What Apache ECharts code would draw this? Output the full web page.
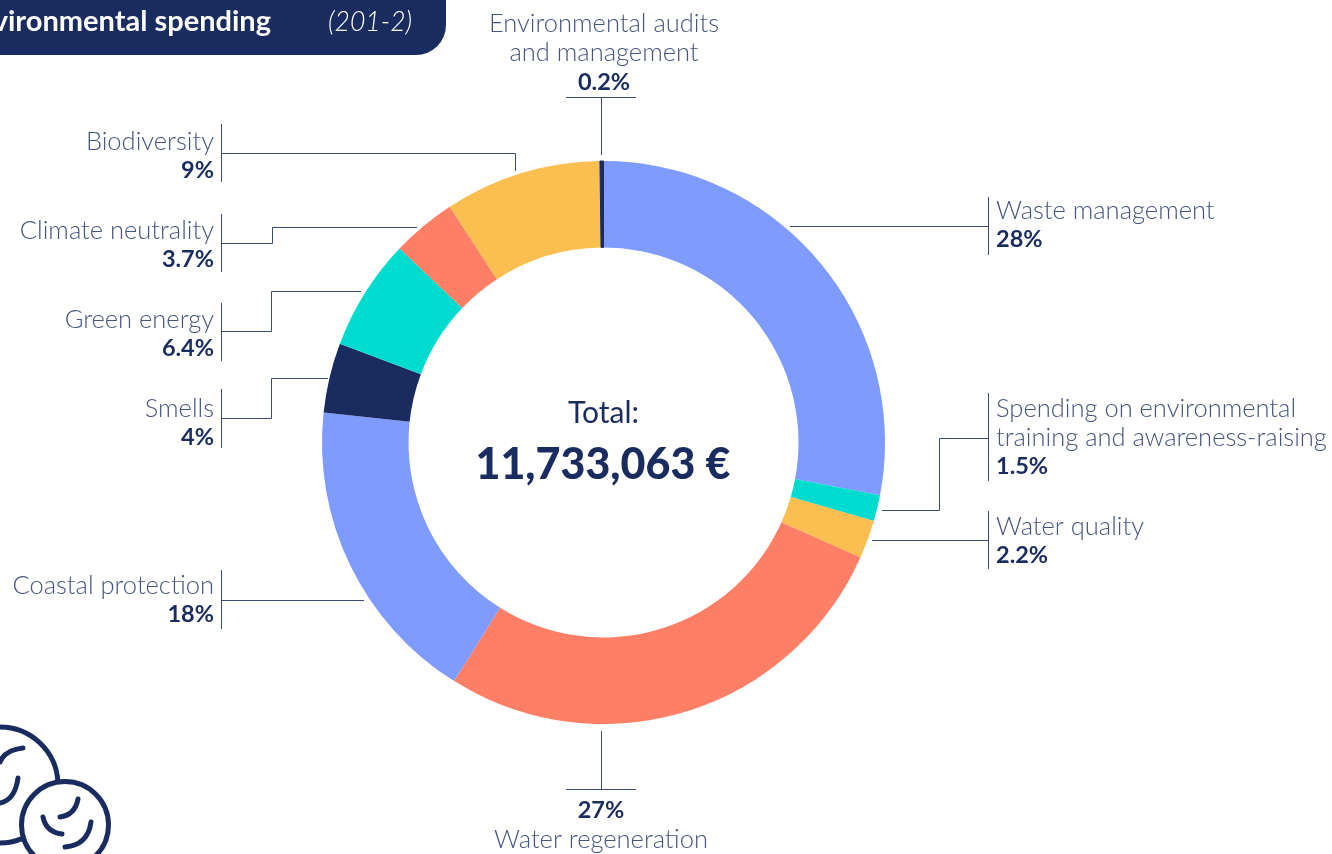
<!DOCTYPE html>
<html><head><meta charset="utf-8">
<style>html,body{margin:0;padding:0;background:#fff}#c{width:1332px;height:854px}</style>
<script src="https://cdn.jsdelivr.net/npm/echarts@6/dist/echarts.min.js"></script>
</head><body><div id="c"></div>
<script>
const categories = ['Waste management','Spending on environmental\ntraining and awareness-raising','Water quality','Water regeneration','Coastal protection','Smells','Green energy','Climate neutrality','Biodiversity','Environmental audits\nand management'];
const values = [28,1.5,2.2,27.2,17.8,4,6.4,3.7,9,0.2];
const valueLabels = ['28%','1.5%','2.2%','27%','18%','4%','6.4%','3.7%','9%','0.2%'];
const titleText = 'Environmental spending';
const periodText = '(201-2)';
const totalLabel = 'Total:';
const totalValue = '11,733,063 €';

const NAVY='#1a2c5f', TXT='#46557f', FONT='Lato';
const BLUE='#7f9bff', TEAL='#00dbd0', YEL='#fbbe50', CORAL='#ff7f66';
const colors=[BLUE,TEAL,YEL,CORAL,BLUE,NAVY,TEAL,CORAL,YEL,NAVY];

// label anchor per slice
const anchors=[
 {x:996,y:225,align:'left'},{x:996,y:437.5,align:'left'},{x:996,y:541,align:'left'},
 {x:601,y:825,align:'center'},{x:214,y:600,align:'right'},{x:214,y:423,align:'right'},
 {x:214,y:334,align:'right'},{x:214,y:245,align:'right'},{x:214,y:156,align:'right'},
 {x:604,y:53,align:'center'}];

// leader lines (annotation furniture)
const leaders=[
 [[221.5,124],[221.5,182]],[[221.5,153.5],[515.5,153.5],[515.5,171]],
 [[221.5,214],[221.5,272]],[[221.5,243.5],[272.5,243.5],[272.5,227.5],[417,227.5]],
 [[221.5,303],[221.5,361]],[[221.5,331.5],[271.5,331.5],[271.5,291.5],[361,291.5]],
 [[221.5,389],[221.5,448]],[[221.5,418.5],[271.5,418.5],[271.5,378.5],[328,378.5]],
 [[221.5,570],[221.5,629]],[[221.5,600.5],[364,600.5]],
 [[988.5,197],[988.5,255]],[[790,226.5],[988.5,226.5]],
 [[988.5,393],[988.5,481]],[[882,510.5],[939.5,510.5],[939.5,438.5],[988.5,438.5]],
 [[988.5,511],[988.5,569]],[[872,540.5],[988.5,540.5]],
 [[601.5,731],[601.5,789.5]],[[566,789.5],[636,789.5]],
 [[566,97.5],[636,97.5]],[[601.5,97.5],[601.5,155]]];

const icon={type:'group',silent:true,children:[
 ...[[0,785,58,-Math.PI/2,-0.05],[0,785,58,1.18,Math.PI/2]].map(a=>({type:'arc',shape:{cx:a[0],cy:a[1],r:a[2],startAngle:a[3],endAngle:a[4]},style:{stroke:NAVY,fill:null,lineWidth:5,lineCap:'round'}})),
 {type:'circle',shape:{cx:65,cy:825,r:43.5},style:{stroke:NAVY,fill:'#fff',lineWidth:5}},
 ...[[23,748,5,750,0,762],[18,778,15,800,0,803],[78,799,75,815,60,817],[43,817,46,832,62,834],[91,822,88,845,65,847]].map(c=>({type:'bezierCurve',shape:{x1:c[0],y1:c[1],cpx1:c[2],cpy1:c[3],x2:c[4],y2:c[5]},style:{stroke:NAVY,fill:null,lineWidth:5,lineCap:'round'}}))
]};

const chart=echarts.init(document.getElementById('c'),null,{renderer:'canvas'});
chart.setOption({
 animation:false,backgroundColor:'#fff',
 graphic:[
  {type:'rect',shape:{x:-60,y:-40,width:506,height:95,r:[0,0,30,0]},style:{fill:NAVY},silent:true},
  {type:'text',style:{x:271,y:22,text:titleText,fill:'#fff',font:'700 29px '+FONT,textAlign:'right',textVerticalAlign:'middle'},silent:true},
  {type:'text',style:{x:328,y:22,text:periodText,fill:'#fff',font:'italic 300 26.5px '+FONT,textAlign:'left',textVerticalAlign:'middle'},silent:true},
  {type:'text',style:{x:603.5,y:413,text:totalLabel,fill:NAVY,font:'400 30px '+FONT,textAlign:'center',textVerticalAlign:'middle'},silent:true},
  {type:'text',style:{x:603,y:465,text:totalValue,fill:NAVY,font:'900 43px '+FONT,textAlign:'center',textVerticalAlign:'middle'},silent:true},
  ...leaders.map(p=>({type:'polyline',shape:{points:p},style:{stroke:'#3a4a78',fill:null,lineWidth:1},silent:true})),
  icon
 ],
 series:[{
  type:'pie',radius:[195,281.5],center:[603.5,442.5],startAngle:90,clockwise:true,avoidLabelOverlap:false,
  minAngle:0,silent:true,
  data:categories.map((c,i)=>({name:c,value:values[i],itemStyle:{color:colors[i],borderColor:i===9?NAVY:null,borderWidth:i===9?1:0}})),
  label:{show:true,position:'outside',color:TXT,
   formatter:p=>{
    const n=p.name.split('\n').map(s=>'{n|'+s+'}').join('\n'), v='{v|'+valueLabels[p.dataIndex]+'}';
    return p.dataIndex===3? v+'\n'+n : n+'\n'+v;
   },
   rich:{n:{fontFamily:FONT,fontWeight:300,fontSize:25.5,lineHeight:29,color:TXT},
         v:{fontFamily:FONT,fontWeight:700,fontSize:23.5,lineHeight:29,color:NAVY}}},
  labelLine:{show:false},
  labelLayout:p=>{const a=anchors[p.dataIndex];return {x:a.x,y:a.y,align:a.align,verticalAlign:'middle',hideOverlap:false};}
 }]
});
</script></body></html>
